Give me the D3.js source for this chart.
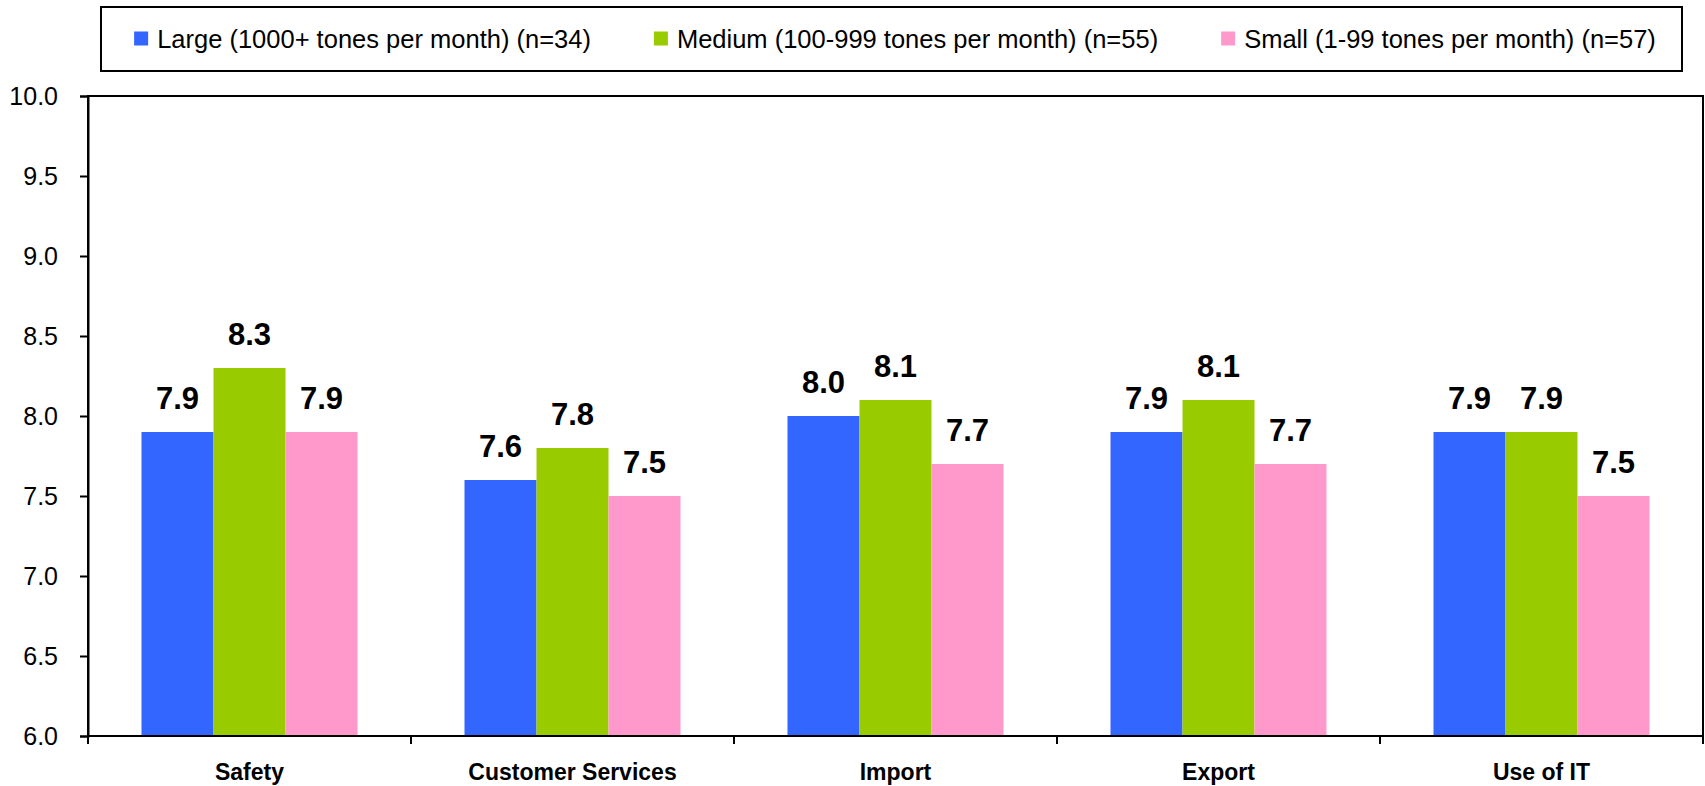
<!DOCTYPE html>
<html>
<head>
<meta charset="utf-8">
<script src="https://cdn.jsdelivr.net/npm/d3@7"></script>
<style>
  html, body { margin: 0; padding: 0; background: #ffffff; }
  svg { display: block; font-family: "Liberation Sans", Arial, sans-serif; }
</style>
</head>
<body>
<svg id="chart" width="1705" height="786"></svg>
<script>
// ---- data ----
const categories = ["Safety", "Customer Services", "Import", "Export", "Use of IT"];
const seriesNames = [
  "Large (1000+ tones per month) (n=34)",
  "Medium (100-999 tones per month) (n=55)",
  "Small (1-99 tones per month) (n=57)"
];
const largeValues  = [7.9, 7.6, 8.0, 7.9, 7.9];
const mediumValues = [8.3, 7.8, 8.1, 8.1, 7.9];
const smallValues  = [7.9, 7.5, 7.7, 7.7, 7.5];
const yTicks = [6.0, 6.5, 7.0, 7.5, 8.0, 8.5, 9.0, 9.5, 10.0];
const seriesColors = ["#3366FF", "#99CC00", "#FF99CC"];

const seriesValues = [largeValues, mediumValues, smallValues];

// ---- layout ----
const svg = d3.select("#chart");
const plot = { left: 88, right: 1703, top: 96, bottom: 736 };

const y = d3.scaleLinear().domain([6, 10]).range([plot.bottom, plot.top]);
const x0 = d3.scaleBand().domain(categories).range([plot.left, plot.right]).paddingInner(0).paddingOuter(0);
const x1 = d3.scaleBand().domain(d3.range(seriesNames.length)).range([53.5, 53.5 + 216]).padding(0);

const rows = categories.map((c, i) => ({
  category: c,
  values: seriesValues.map((s, k) => ({ k, v: s[i] }))
}));

// bars
const groups = svg.append("g").selectAll("g.cat")
  .data(rows).join("g")
  .attr("class", "cat")
  .attr("transform", d => `translate(${x0(d.category)},0)`);

groups.selectAll("rect")
  .data(d => d.values).join("rect")
  .attr("x", d => x1(d.k))
  .attr("y", d => y(d.v))
  .attr("width", x1.bandwidth())
  .attr("height", d => y(6) - y(d.v))
  .attr("fill", d => seriesColors[d.k]);

// value labels
groups.selectAll("text.val")
  .data(d => d.values).join("text")
  .attr("class", "val")
  .attr("x", d => x1(d.k) + x1.bandwidth() / 2)
  .attr("y", d => y(d.v) - 23)
  .attr("text-anchor", "middle")
  .attr("font-size", 31)
  .attr("font-weight", "bold")
  .attr("fill", "#000")
  .text(d => d3.format(".1f")(d.v));

// plot frame
svg.append("rect")
  .attr("x", plot.left).attr("y", plot.top)
  .attr("width", plot.right - plot.left).attr("height", plot.bottom - plot.top)
  .attr("fill", "none").attr("stroke", "#000").attr("stroke-width", 2);

// y axis
const yAxis = d3.axisLeft(y).tickValues(yTicks).tickFormat(d3.format(".1f")).tickSize(8).tickPadding(22);
const gy = svg.append("g").attr("transform", `translate(${plot.left},0)`).call(yAxis);
gy.select(".domain").attr("stroke", "#000").attr("stroke-width", 2);
gy.selectAll(".tick line").attr("stroke", "#000").attr("stroke-width", 2);
gy.selectAll(".tick text")
  .attr("font-family", "'Liberation Sans', Arial, sans-serif")
  .attr("font-size", 25).attr("fill", "#000").attr("dy", "0.34em");

// x axis: ticks at category boundaries
const boundaries = categories.map(c => x0(c)).concat([plot.right]);
const gx = svg.append("g").attr("transform", `translate(0,${plot.bottom})`);
gx.append("line").attr("x1", plot.left).attr("x2", plot.right)
  .attr("stroke", "#000").attr("stroke-width", 2);
gx.selectAll("line.tk").data(boundaries).join("line")
  .attr("class", "tk")
  .attr("x1", d => d).attr("x2", d => d)
  .attr("y1", 0).attr("y2", 8)
  .attr("stroke", "#000").attr("stroke-width", 2);
gx.selectAll("text.cat").data(categories).join("text")
  .attr("class", "cat")
  .attr("x", d => x0(d) + x0.bandwidth() / 2)
  .attr("y", 43.5)
  .attr("text-anchor", "middle")
  .attr("font-size", 23)
  .attr("font-weight", "bold")
  .attr("fill", "#000")
  .text(d => d);

// legend
const legendBox = { x: 101, y: 7, w: 1581, h: 64 };
svg.append("rect")
  .attr("x", legendBox.x).attr("y", legendBox.y)
  .attr("width", legendBox.w).attr("height", legendBox.h)
  .attr("fill", "#fff").attr("stroke", "#000").attr("stroke-width", 2);

const lg = svg.append("g");
let cursor = 0;
seriesNames.forEach((name, k) => {
  const item = lg.append("g").attr("transform", `translate(${cursor},0)`);
  item.append("rect").attr("x", 0).attr("y", 31.5).attr("width", 14).attr("height", 14)
    .attr("fill", seriesColors[k]);
  const t = item.append("text").attr("x", 23).attr("y", 47.5)
    .attr("font-size", 25.5).attr("fill", "#000").text(name);
  const w = t.node().getComputedTextLength();
  cursor += 23 + w + 63;
});
const contentW = cursor - 63;
lg.attr("transform", `translate(${895 - contentW / 2},0)`);
</script>
</body>
</html>
